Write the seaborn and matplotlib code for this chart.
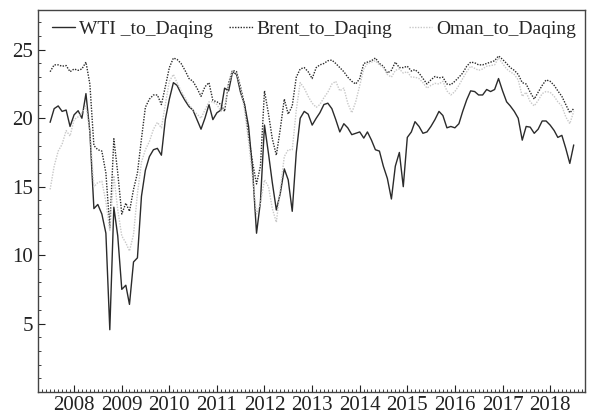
import pandas as pd
import numpy as np
import matplotlib
matplotlib.use('Agg')
import matplotlib.pyplot as plt
import matplotlib.dates as mdates
from matplotlib.ticker import MultipleLocator
import seaborn as sns

# monthly observations, Jul 2007 - Jul 2018
dates = pd.date_range('2007-07-01', periods=133, freq='MS')

wti = [19.7, 20.7, 20.9, 20.5, 20.6, 19.4, 20.25, 20.55, 20.0, 21.8,
       19.0, 13.4, 13.7, 13.0, 11.6, 4.55, 13.5, 11.4, 7.5, 7.8,
       6.4, 9.5, 9.8, 14.3, 16.2, 17.2, 17.7, 17.8, 17.3, 19.9,
       21.4, 22.6, 22.4, 21.8, 21.3, 20.85, 20.6, 19.9, 19.2, 20.0,
       21.0, 19.9, 20.4, 20.6, 22.2, 22.0, 23.4, 23.2, 21.9, 21.0,
       19.4, 16.3, 11.6, 13.9, 19.5, 17.4, 15.3, 13.3, 14.5, 16.3,
       15.5, 13.2, 17.5, 20.0, 20.5, 20.3, 19.5, 20.0, 20.4, 21.0,
       21.1, 20.7, 19.9, 19.0, 19.6, 19.3, 18.8, 18.9, 19.0, 18.55,
       19.0, 18.4, 17.7, 17.6, 16.5, 15.6, 14.1, 16.5, 17.5, 15.0,
       18.6, 19.0, 19.75, 19.4, 18.9, 19.0, 19.4, 19.9, 20.5, 20.2,
       19.3, 19.4, 19.3, 19.6, 20.5, 21.35, 22.0, 21.95, 21.7, 21.7,
       22.1, 21.95, 22.1, 22.9, 22.0, 21.2, 20.9, 20.5, 20.0, 18.4,
       19.4, 19.35, 18.9, 19.2, 19.8, 19.8, 19.5, 19.1, 18.6, 18.75,
       17.8, 16.7, 18.05]

brent = [23.4, 23.9, 23.9, 23.8, 23.85, 23.4, 23.6, 23.5, 23.6, 24.1,
         22.5, 18.0, 17.7, 17.6, 16.0, 12.0, 18.5, 16.0, 13.0, 13.8,
         13.2, 14.8, 16.0, 18.5, 20.8, 21.4, 21.7, 21.7, 21.0, 22.3,
         23.7, 24.4, 24.3, 24.0, 23.5, 22.9, 22.7, 22.2, 21.6, 22.3,
         22.6, 21.3, 21.2, 21.0, 20.5, 22.6, 23.5, 23.4, 22.3, 21.0,
         18.7, 16.8, 15.2, 16.5, 22.0, 20.3, 18.5, 17.3, 19.2, 21.4,
         20.3, 20.9, 23.0, 23.6, 23.7, 23.4, 22.9, 23.7, 23.9, 24.0,
         24.2, 24.25, 24.0, 23.7, 23.4, 23.0, 22.7, 22.5, 22.9, 24.0,
         24.1, 24.2, 24.4, 24.0, 23.8, 23.3, 23.5, 24.1, 23.7, 23.7,
         23.8, 23.45, 23.55, 23.3, 22.9, 22.5, 22.8, 23.05, 22.95, 23.0,
         22.5, 22.45, 22.7, 23.0, 23.3, 23.8, 24.1, 24.05, 23.9, 23.9,
         24.0, 24.1, 24.2, 24.55, 24.3, 24.0, 23.7, 23.5, 23.2, 22.6,
         22.5, 21.9, 21.4, 21.9, 22.4, 22.8, 22.7, 22.4, 22.0, 21.6,
         21.0, 20.4, 20.7]

oman = [14.8, 16.5, 17.6, 18.1, 19.1, 18.7, 19.9, 20.1, 20.4, 20.9,
        19.0, 15.0, 15.3, 15.4, 13.9, 11.8, 15.8, 13.3, 11.4, 10.9,
        10.3, 11.5, 14.5, 16.8, 17.7, 18.3, 19.2, 19.7, 19.3, 21.0,
        22.7, 23.2, 22.6, 22.0, 21.5, 21.0, 20.6, 20.3, 20.0, 20.6,
        21.2, 21.2, 21.0, 20.5, 20.8, 22.5, 23.4, 23.3, 22.2, 20.6,
        18.3, 15.7, 13.0, 13.8, 15.5, 15.0, 13.4, 12.4, 14.8, 17.2,
        17.7, 17.7, 20.6, 22.6, 22.2, 21.6, 21.1, 20.8, 21.0, 21.5,
        21.9, 22.5, 22.7, 22.0, 22.2, 21.1, 20.4, 21.2, 22.4, 23.6,
        24.0, 24.1, 24.2, 23.9, 23.7, 23.2, 23.0, 23.5, 23.6, 23.3,
        23.4, 23.0, 23.0, 22.9, 22.6, 22.2, 22.4, 22.55, 22.5, 22.7,
        22.0, 21.7, 21.95, 22.4, 22.9, 23.4, 23.8, 23.65, 23.5, 23.6,
        23.8, 23.85, 23.9, 24.4, 24.0, 23.6, 23.4, 23.2, 22.8, 21.6,
        21.9, 21.2, 20.9, 21.3, 21.8, 21.95, 21.9, 21.6, 21.2, 20.9,
        20.1, 19.6, 20.5]

series_names = ['WTI _to_Daqing', 'Brent_to_Daqing', 'Oman_to_Daqing']

df = pd.concat([
    pd.DataFrame({'date': dates, 'value': vals, 'series': name})
    for name, vals in zip(series_names, [wti, brent, oman])
])

sns.set_style('ticks')
plt.rcParams['font.family'] = ['Liberation Serif', 'DejaVu Serif']

fig = plt.figure(figsize=(5.9, 4.16), dpi=100)
ax = fig.add_axes([0.0644, 0.0577, 0.927, 0.918])

palette = {series_names[0]: '#2b2b2b', series_names[1]: '#2b2b2b', series_names[2]: '#c8c8c8'}
dashes = {series_names[0]: '', series_names[1]: (1, 1), series_names[2]: (1, 1)}
sns.lineplot(data=df, x='date', y='value', hue='series', style='series',
             palette=palette, dashes=dashes, linewidth=1.0, ax=ax, legend=True)

ax.set_xlim(pd.Timestamp('2007-03-30'), pd.Timestamp('2018-09-25'))
ax.set_ylim(0, 27.9)
ax.set_xlabel('')
ax.set_ylabel('')

ax.xaxis.set_major_locator(mdates.YearLocator())
ax.xaxis.set_major_formatter(mdates.DateFormatter('%Y'))
ax.xaxis.set_minor_locator(mdates.MonthLocator())
ax.yaxis.set_minor_locator(MultipleLocator(1))
ax.set_yticks([5, 10, 15, 20, 25])

ax.tick_params(axis='both', which='both', direction='in', labelsize=15, colors='#222222')
ax.tick_params(axis='both', which='major', length=5, width=0.8)
ax.tick_params(axis='both', which='minor', length=2.5, width=0.6)
ax.tick_params(axis='x', pad=3)
for s in ax.spines.values():
    s.set_visible(True)
    s.set_color('#444444')
    s.set_linewidth(1.0)

handles, labels = ax.get_legend_handles_labels()
ax.legend(handles, labels, loc='upper left', bbox_to_anchor=(0.025, 0.973), ncol=3,
          frameon=False, fontsize=14, handlelength=1.2, handletextpad=0.2,
          columnspacing=0.85, borderaxespad=0, borderpad=0)

fig.savefig('out.png', dpi=100)
